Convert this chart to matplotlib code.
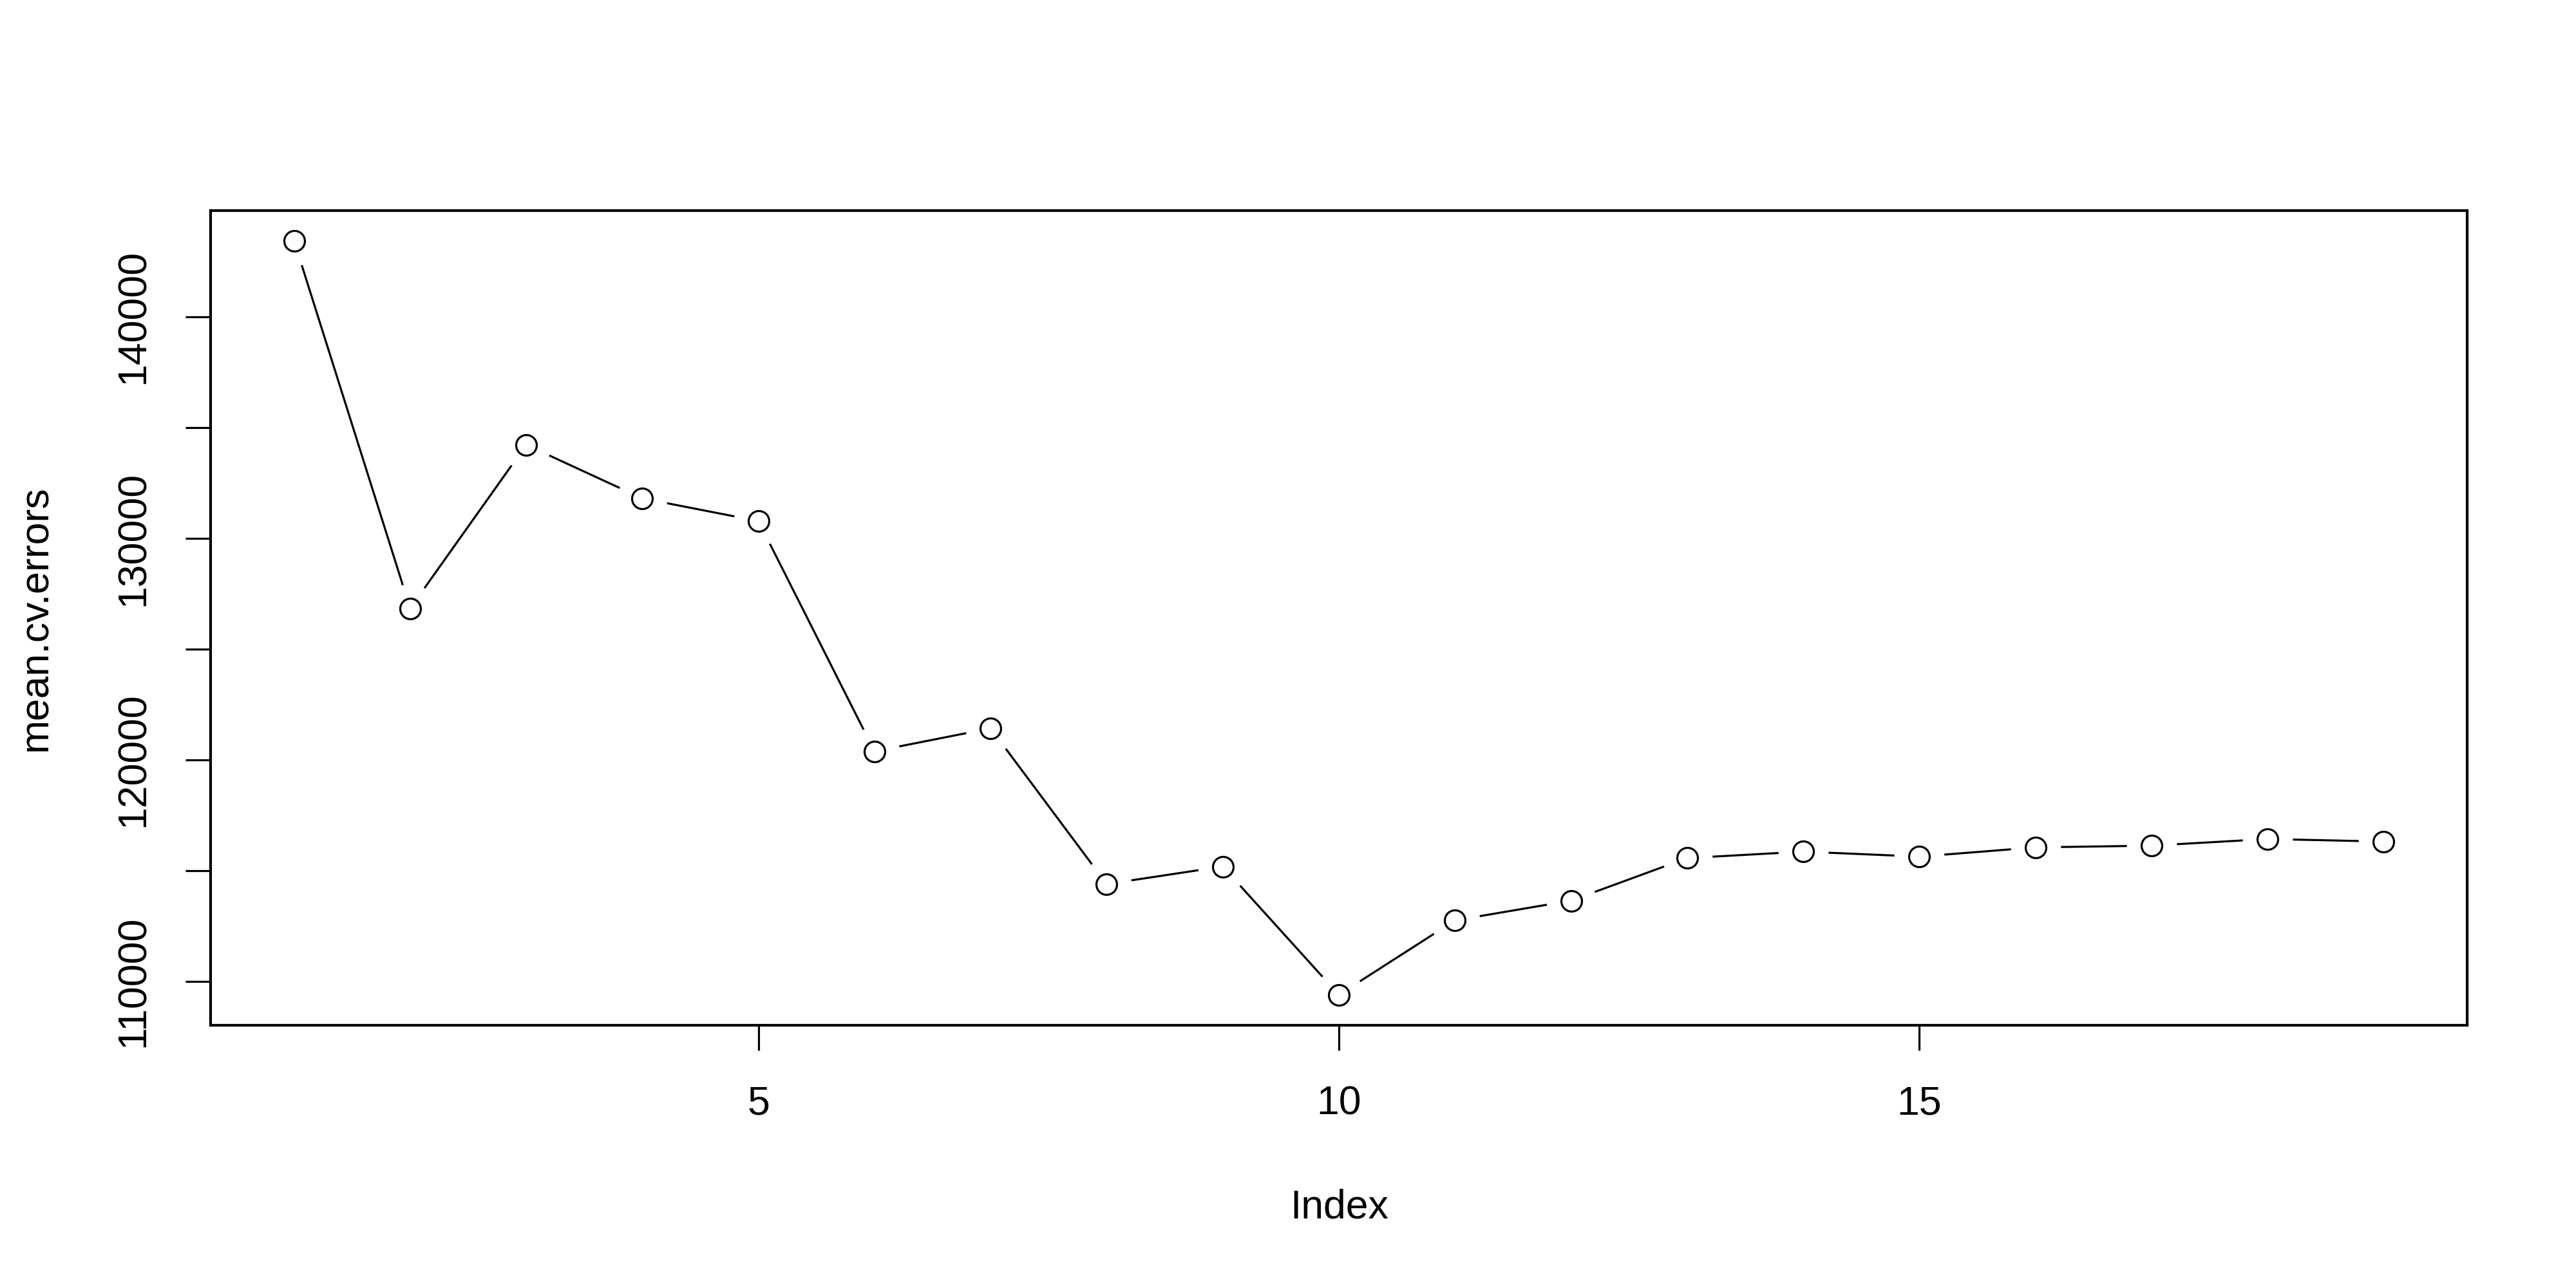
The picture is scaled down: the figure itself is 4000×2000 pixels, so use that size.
import numpy as np
import matplotlib
matplotlib.use("Agg")
import matplotlib.pyplot as plt

# mean CV error for each model size
index = list(range(1, 20))
mean_cv_errors = [143431, 126843, 134220, 131804, 130780, 120389, 121425,
                  114397, 115189, 109398, 112759, 113649, 115570, 115861,
                  115637, 116053, 116131, 116431, 116315]
yticks = list(range(110000, 140001, 5000))
ytick_labels = [str(t) if t % 10000 == 0 else "" for t in yticks]
xticks = [5, 10, 15]

plt.rcParams['font.family'] = ['Liberation Sans', 'DejaVu Sans']
fs = 22.5

fig = plt.figure(figsize=(20, 10), dpi=200)
ax = fig.add_axes([0.0817, 0.2042, 0.9578 - 0.0817, 0.8365 - 0.2042])

# R type="b": line with gaps around the open circles
ax.plot(index, mean_cv_errors, color='black', lw=1.15, zorder=1, solid_capstyle='butt')
ax.plot(index, mean_cv_errors, 'o', ms=28, mfc='white', mec='none', zorder=2)
ax.plot(index, mean_cv_errors, 'o', ms=11.5, mfc='white', mec='black', mew=1.15, zorder=3)

# R-style 4% axis expansion
n = len(index)
xr = n - 1
ax.set_xlim(1 - 0.04 * xr, n + 0.04 * xr)
lo, hi = min(mean_cv_errors), max(mean_cv_errors)
ax.set_ylim(lo - 0.04 * (hi - lo), hi + 0.04 * (hi - lo))

ax.set_xticks(xticks)
ax.set_xticklabels([str(t) for t in xticks], fontsize=fs)
ax.set_yticks(yticks)
ax.set_yticklabels(ytick_labels, fontsize=fs, rotation=90, va='center')
ax.tick_params(direction='out', length=14, width=1.15, color='black')
ax.tick_params(axis='x', pad=19.5)
ax.tick_params(axis='y', pad=18.5)
for s in ax.spines.values():
    s.set_linewidth(1.5)

fig.text(0.5198, 0.0625, 'Index', fontsize=fs, ha='center', va='center')
fig.text(0.014, 0.52, 'mean.cv.errors', fontsize=fs, ha='center', va='center', rotation=90)

fig.savefig('out.png', dpi=200)
